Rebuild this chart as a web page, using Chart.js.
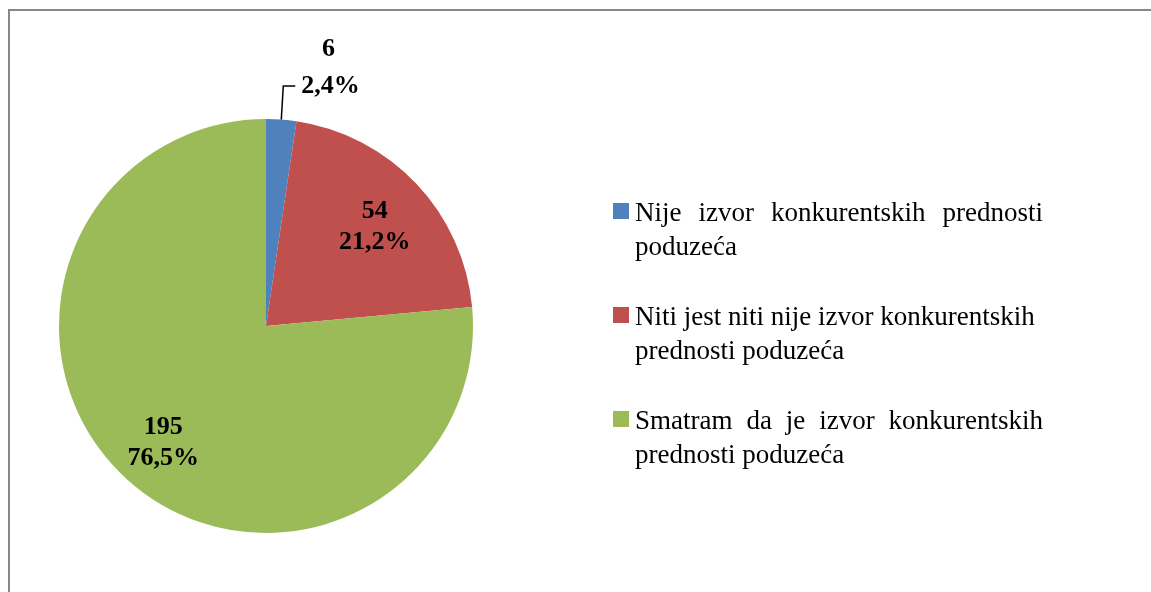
<!DOCTYPE html>
<html>
<head>
<meta charset="utf-8">
<script src="https://cdn.jsdelivr.net/npm/chart.js@4.4.1/dist/chart.umd.min.js"></script>
<style>
  html, body { margin: 0; padding: 0; background: #fff; overflow: hidden; }
  #wrap { position: relative; width: 1151px; height: 592px; }
  #frame {
    position: absolute; left: 8px; top: 9px; width: 1200px; height: 700px;
    border-top: 2px solid #878787; border-left: 2px solid #878787;
  }
  canvas { position: absolute; left: 0; top: 0; }
</style>
</head>
<body>
<div id="wrap">
  <div id="frame"></div>
  <canvas id="pieChart" width="1151" height="592"></canvas>
</div>
<script>
// Categories and answer counts
const categories = [
  'Nije izvor konkurentskih prednosti poduzeća',
  'Niti jest niti nije izvor konkurentskih prednosti poduzeća',
  'Smatram da je izvor konkurentskih prednosti poduzeća'
];
const counts = [6, 54, 195];
const sliceColors = ['#4F81BD', '#C0504D', '#9BBB59'];

// Legend text split the way it wraps in the picture
const legendLines = [
  ['Nije izvor konkurentskih prednosti', 'poduzeća'],
  ['Niti jest niti nije izvor konkurentskih', 'prednosti poduzeća'],
  ['Smatram da je izvor konkurentskih', 'prednosti poduzeća']
];
// first lines that are stretched to the full legend width
const justifiedLegend = [true, false, true];

const total = counts.reduce((a, b) => a + b, 0);
const percentText = counts.map(v => (v / total * 100).toFixed(1).replace('.', ',') + '%');

const serif = '"Liberation Serif", "Times New Roman", serif';

// Draws value/percent labels and the legend on the canvas
const labelsPlugin = {
  id: 'sliceLabels',
  afterDraw(chart) {
    const ctx = chart.ctx;
    const meta = chart.getDatasetMeta(0);
    ctx.save();
    ctx.font = 'bold 26px ' + serif;
    ctx.fillStyle = '#000';
    ctx.textBaseline = 'middle';
    ctx.textAlign = 'center';

    meta.data.forEach((arc, i) => {
      const { x, y, startAngle, endAngle, outerRadius } = arc.getProps(
        ['x', 'y', 'startAngle', 'endAngle', 'outerRadius'], true);
      const mid = (startAngle + endAngle) / 2;
      const lines = [String(counts[i]), percentText[i]];

      if (i === 0) {
        // small slice: label outside with a leader line
        const ex = x + Math.cos(mid) * outerRadius;
        const ey = y + Math.sin(mid) * outerRadius;
        const kx = ex + 2, ky = y - outerRadius - 33;
        const hx = kx + 12;
        ctx.strokeStyle = '#000';
        ctx.lineWidth = 1.5;
        ctx.beginPath();
        ctx.moveTo(ex, ey);
        ctx.lineTo(kx, ky);
        ctx.lineTo(hx, ky);
        ctx.stroke();
        const w = Math.max(...lines.map(t => ctx.measureText(t).width));
        const cx = hx + 6 + w / 2;
        ctx.fillText(lines[0], cx - 2, ky - 37);
        ctx.fillText(lines[1], cx, ky);
      } else {
        const d = outerRadius * 0.73;
        const cx = x + Math.cos(mid) * d - 1;
        const cy = y + Math.sin(mid) * d + 5;
        ctx.fillText(lines[0], cx, cy - 15.5);
        ctx.fillText(lines[1], cx, cy + 15.5);
      }
    });

    // legend
    const boxX = 613, textX = 635, firstTop = 203, itemGap = 104, lineGap = 34;
    const justifyWidth = 408;
    ctx.font = '27px ' + serif;
    ctx.textAlign = 'left';
    ctx.textBaseline = 'alphabetic';
    legendLines.forEach((lines, i) => {
      const top = firstTop + i * itemGap;
      ctx.fillStyle = sliceColors[i];
      ctx.fillRect(boxX, top, 16, 16);
      ctx.fillStyle = '#000';
      lines.forEach((line, j) => {
        const base = top + 18 + j * lineGap;
        const natural = ctx.measureText(line).width;
        const words = line.split(' ');
        if (justifiedLegend[i] && j === 0 && natural < justifyWidth) {
          // stretch the spaces like a justified paragraph
          const extra = (justifyWidth - natural) / (words.length - 1);
          const space = ctx.measureText(' ').width;
          let px = textX;
          words.forEach(word => {
            ctx.fillText(word, px, base);
            px += ctx.measureText(word).width + space + extra;
          });
        } else {
          ctx.fillText(line, textX, base);
        }
      });
    });
    ctx.restore();
  }
};

new Chart(document.getElementById('pieChart'), {
  type: 'pie',
  data: {
    labels: categories,
    datasets: [{
      data: counts,
      backgroundColor: sliceColors,
      borderWidth: 0
    }]
  },
  options: {
    responsive: false,
    animation: false,
    layout: {
      padding: { top: 119, bottom: 59, left: 59, right: 678 }
    },
    plugins: {
      legend: { display: false },
      tooltip: { enabled: false }
    }
  },
  plugins: [labelsPlugin]
});
</script>
</body>
</html>
